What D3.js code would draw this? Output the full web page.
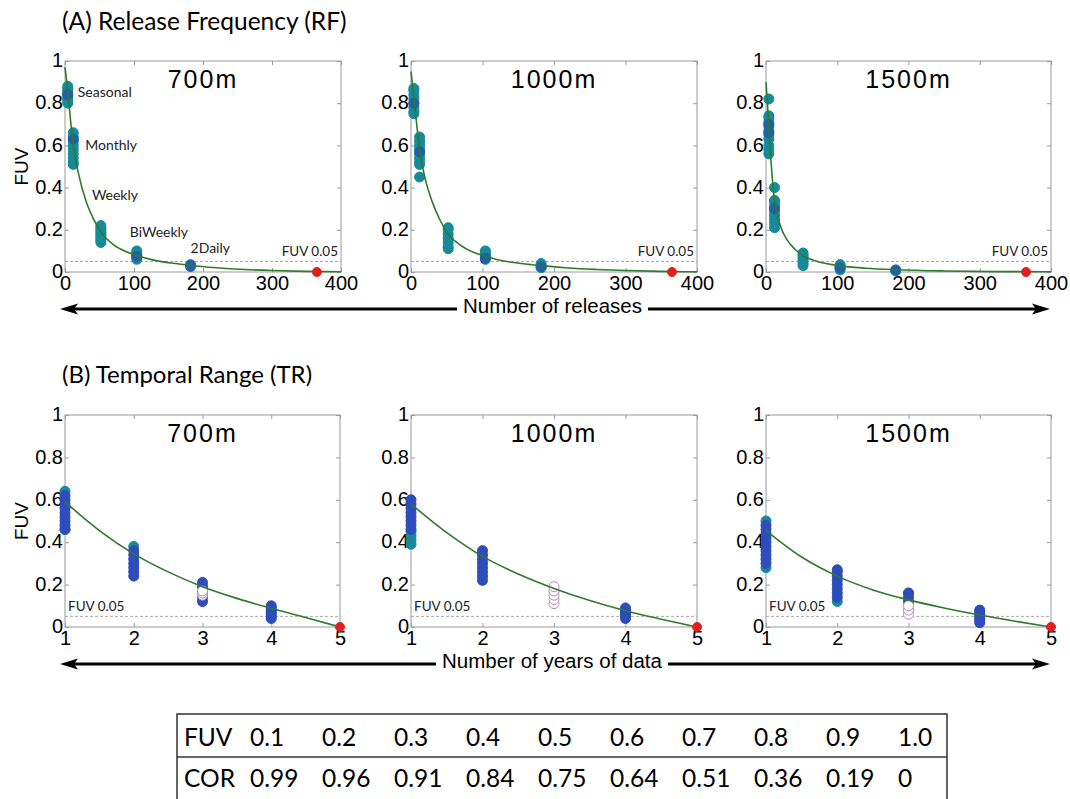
<!DOCTYPE html>
<html>
<head>
<meta charset="utf-8">
<script src="https://cdn.jsdelivr.net/npm/d3@7"></script>
<style>
  body { margin: 0; background: #fff; }
  svg { display: block; }
  .tick text { font-family: "Liberation Sans", Arial, sans-serif; }
</style>
</head>
<body>
<div id="chart"></div>
<script>
// FUV vs release frequency (A) and temporal range (B), three depths each

// --- (A) release frequency: x = number of releases per year
const rfGroups = ["Seasonal", "Monthly", "Weekly", "BiWeekly", "2Daily"];
const rfXTicks = [0, 100, 200, 300, 400];
const rfRed = [[365, 0]];

const rf700Teal = [
  [4, [0.80, 0.81, 0.82, 0.83, 0.84, 0.85, 0.86, 0.87, 0.88]],
  [12, [0.51, 0.52, 0.54, 0.56, 0.58, 0.60, 0.62, 0.64, 0.66]],
  [52, [0.14, 0.15, 0.16, 0.17, 0.18, 0.19, 0.20, 0.21, 0.22]],
  [104, [0.06, 0.07, 0.08, 0.09, 0.10]],
  [182, [0.025, 0.035]]
];
const rf700Blue = [[4, [0.84]], [12, [0.63]], [104, [0.075]], [182, [0.03]]];
const rf700Curve = [[0, 0.97], [4, 0.86], [8, 0.72], [12, 0.6], [20, 0.46], [30, 0.34], [40, 0.26], [52, 0.19],
  [70, 0.13], [90, 0.095], [104, 0.078], [130, 0.055], [160, 0.04], [182, 0.031], [220, 0.02],
  [260, 0.012], [300, 0.007], [350, 0.003], [400, 0.001]];

const rf1000Teal = [
  [4, [0.75, 0.76, 0.78, 0.80, 0.82, 0.84, 0.86, 0.87]],
  [12, [0.45, 0.51, 0.52, 0.54, 0.56, 0.58, 0.60, 0.62, 0.64]],
  [52, [0.11, 0.12, 0.14, 0.16, 0.18, 0.20, 0.21]],
  [104, [0.06, 0.07, 0.08, 0.09, 0.10]],
  [182, [0.02, 0.03, 0.04]]
];
const rf1000Blue = [[4, [0.80]], [12, [0.57]], [104, [0.065]], [182, [0.025]]];
const rf1000Curve = [[0, 0.95], [4, 0.83], [8, 0.70], [12, 0.58], [20, 0.44], [30, 0.33], [40, 0.25], [52, 0.18],
  [70, 0.125], [90, 0.09], [104, 0.075], [130, 0.052], [160, 0.038], [182, 0.03], [220, 0.019],
  [260, 0.012], [300, 0.007], [350, 0.003], [400, 0.001]];

const rf1500Teal = [
  [4, [0.56, 0.58, 0.60, 0.63, 0.65, 0.67, 0.69, 0.71, 0.73, 0.74, 0.82]],
  [12, [0.21, 0.23, 0.25, 0.27, 0.29, 0.31, 0.33, 0.34, 0.40]],
  [52, [0.03, 0.04, 0.05, 0.06, 0.07, 0.08, 0.09]],
  [104, [0.01, 0.02, 0.03, 0.035]],
  [182, [0.005]]
];
const rf1500Blue = [[4, [0.66, 0.70]], [12, [0.30]], [104, [0.02]], [182, [0.01]]];
const rf1500Curve = [[0, 0.9], [2, 0.8], [4, 0.68], [6, 0.57], [8, 0.48], [10, 0.4], [12, 0.34], [16, 0.27],
  [20, 0.22], [30, 0.15], [40, 0.11], [52, 0.077], [70, 0.052], [104, 0.029], [140, 0.018],
  [182, 0.011], [250, 0.005], [320, 0.002], [400, 0.001]];

// --- (B) temporal range: x = number of years of data
const trXTicks = [1, 2, 3, 4, 5];
const trRed = [[5, 0]];

const tr700Blue = [
  [1, [0.46, 0.48, 0.50, 0.52, 0.54, 0.56, 0.58, 0.60, 0.62]],
  [2, [0.24, 0.26, 0.28, 0.30, 0.32, 0.34, 0.36]],
  [3, [0.12, 0.14, 0.19, 0.21]],
  [4, [0.04, 0.05, 0.06, 0.07, 0.08, 0.09, 0.10]]
];
const tr700Teal = [[1, [0.46, 0.64]], [2, [0.38]]];
const tr700Open = [[3, [0.15, 0.16, 0.17]]];
const tr700Curve = [[1, 0.59], [1.5, 0.455], [2, 0.345], [2.5, 0.26], [3, 0.19], [3.5, 0.135], [4, 0.088], [4.5, 0.045], [5, 0.0]];

const tr1000Blue = [
  [1, [0.46, 0.48, 0.50, 0.52, 0.54, 0.56, 0.58, 0.60]],
  [2, [0.22, 0.24, 0.26, 0.28, 0.30, 0.32, 0.34, 0.36]],
  [4, [0.04, 0.05, 0.06, 0.07, 0.08, 0.09]]
];
const tr1000Teal = [[1, [0.39, 0.41, 0.43, 0.45]]];
const tr1000Open = [[3, [0.11, 0.13, 0.15, 0.17, 0.19]]];
const tr1000Curve = [[1, 0.58], [1.5, 0.445], [2, 0.333], [2.5, 0.25], [3, 0.182], [3.5, 0.125], [4, 0.077], [4.5, 0.037], [5, 0.0]];

const tr1500Blue = [
  [1, [0.30, 0.32, 0.34, 0.36, 0.38, 0.40, 0.42, 0.44, 0.46, 0.48]],
  [2, [0.14, 0.16, 0.18, 0.20, 0.22, 0.24, 0.26, 0.27]],
  [3, [0.12, 0.14, 0.16]],
  [4, [0.02, 0.03, 0.04, 0.05, 0.06, 0.07, 0.08]]
];
const tr1500Teal = [[1, [0.28, 0.50]], [2, [0.12]], [3, [0.16]]];
const tr1500Open = [[3, [0.06, 0.08, 0.10]]];
const tr1500Curve = [[1, 0.455], [1.5, 0.33], [2, 0.24], [2.5, 0.175], [3, 0.128], [3.5, 0.09], [4, 0.057], [4.5, 0.027], [5, 0.0]];

const yTicks = [0, 0.2, 0.4, 0.6, 0.8, 1];
const fuvLimit = 0.05;

// correlation table
const tableFuv = ["0.1", "0.2", "0.3", "0.4", "0.5", "0.6", "0.7", "0.8", "0.9", "1.0"];
const tableCor = ["0.99", "0.96", "0.91", "0.84", "0.75", "0.64", "0.51", "0.36", "0.19", "0"];

// ---------------------------------------------------------------
const W = 1070, H = 799;
const TEAL = "#178a98", BLUE = "#2e4dbb", RED = "#e0201e", GREEN = "#2f7a2c";
const SANS = '"Liberation Sans", Arial, sans-serif';
const CAL = 'Lato, "Open Sans", sans-serif';

const svg = d3.select("#chart").append("svg")
  .attr("width", W).attr("height", H);
svg.append("rect").attr("width", W).attr("height", H).attr("fill", "#fff");

// flatten [x, [ys]] groups into points
const flat = groups => groups.flatMap(([x, ys]) => ys.map(y => [x, y]));
const fmt = d3.format("~g");

function drawPanel(p) {
  const x = d3.scaleLinear().domain(p.xDomain).range([p.left, p.right]);
  const y = d3.scaleLinear().domain([0, 1]).range([p.bottom, p.top]);
  const g = svg.append("g");

  // box
  g.append("rect")
    .attr("x", p.left).attr("y", p.top)
    .attr("width", p.right - p.left).attr("height", p.bottom - p.top)
    .attr("fill", "none").attr("stroke", "#9a9a9a").attr("stroke-width", 1);

  // inside ticks on all four sides, labels only left/bottom
  const ax = (axis, tx, ty, labels) => {
    const a = g.append("g").attr("transform", `translate(${tx},${ty})`).call(axis);
    a.select(".domain").remove();
    a.selectAll(".tick line").attr("stroke", "#9a9a9a");
    if (!labels) a.selectAll(".tick text").remove();
    return a;
  };
  const yl = ax(d3.axisLeft(y).tickValues(yTicks).tickFormat(fmt).tickSize(-4).tickPadding(2), p.left, 0, true);
  yl.selectAll(".tick text").attr("font-size", 20).attr("fill", "#000").attr("dy", "0.28em");
  ax(d3.axisRight(y).tickValues(yTicks).tickSize(-4), p.right, 0, false);
  const xl = ax(d3.axisBottom(x).tickValues(p.xTicks).tickFormat(fmt).tickSize(-4).tickPadding(4), 0, p.bottom, true);
  xl.selectAll(".tick text").attr("font-size", 20).attr("fill", "#000");
  ax(d3.axisTop(x).tickValues(p.xTicks).tickSize(-4), 0, p.top, false);

  // FUV 0.05 reference
  g.append("line")
    .attr("x1", p.left).attr("x2", p.right)
    .attr("y1", y(fuvLimit)).attr("y2", y(fuvLimit))
    .attr("stroke", "#aaa").attr("stroke-width", 1).attr("stroke-dasharray", "3,2");
  g.append("text")
    .attr("x", p.limitRight ? p.right - 3 : p.left + 3)
    .attr("y", y(fuvLimit) - 5)
    .attr("text-anchor", p.limitRight ? "end" : "start")
    .attr("font-family", CAL).attr("font-size", 13.5).attr("fill", "#222")
    .text("FUV 0.05");

  // scatter
  const dots = (pts, fill, stroke) => g.append("g").selectAll("circle")
    .data(pts).join("circle")
    .attr("cx", d => x(d[0])).attr("cy", d => y(d[1])).attr("r", 5)
    .attr("fill", fill).attr("stroke", stroke).attr("stroke-width", 1);
  dots(flat(p.teal), TEAL, TEAL);
  dots(flat(p.blue), p.blueColor || BLUE, p.blueColor || BLUE);
  if (p.open) dots(flat(p.open), "#fff", "#b58ab4");

  // fitted curve
  g.append("path")
    .datum(p.curve)
    .attr("d", d3.line().x(d => x(d[0])).y(d => y(d[1])).curve(d3.curveMonotoneX))
    .attr("fill", "none").attr("stroke", GREEN).attr("stroke-width", 1.6);

  dots(p.red, RED, RED).attr("r", 4.5);

  // panel title
  g.append("text")
    .attr("x", (p.left + p.right) / 2).attr("y", p.top + 27)
    .attr("text-anchor", "middle")
    .attr("font-family", SANS).attr("font-size", 25).attr("letter-spacing", 2)
    .text(p.name);

  if (p.ylabel) {
    g.append("text")
      .attr("transform", `translate(${p.left - 37},${(p.top + p.bottom) / 2}) rotate(-90)`)
      .attr("text-anchor", "middle")
      .attr("font-family", SANS).attr("font-size", 19)
      .text("FUV");
  }
  return { x, y, g };
}

const aTop = 61, aBottom = 272, bTop = 415, bBottom = 627;
const cols = [[65, 341], [411, 697], [766, 1051]];

const panelsA = [
  { name: "700m", teal: rf700Teal, blue: rf700Blue, curve: rf700Curve, ylabel: true },
  { name: "1000m", teal: rf1000Teal, blue: rf1000Blue, curve: rf1000Curve },
  { name: "1500m", teal: rf1500Teal, blue: rf1500Blue, curve: rf1500Curve }
].map((p, i) => drawPanel(Object.assign(p, {
  left: cols[i][0], right: cols[i][1], top: aTop, bottom: aBottom,
  xDomain: [0, 400], xTicks: rfXTicks, red: rfRed, limitRight: true, blueColor: "#2160a8"
})));

const panelsB = [
  { name: "700m", teal: tr700Teal, blue: tr700Blue, open: tr700Open, curve: tr700Curve, ylabel: true },
  { name: "1000m", teal: tr1000Teal, blue: tr1000Blue, open: tr1000Open, curve: tr1000Curve },
  { name: "1500m", teal: tr1500Teal, blue: tr1500Blue, open: tr1500Open, curve: tr1500Curve }
].map((p, i) => drawPanel(Object.assign(p, {
  left: cols[i][0], right: cols[i][1] + (i === 0 ? -1 : 0), top: bTop, bottom: bBottom,
  xDomain: [1, 5], xTicks: trXTicks, red: trRed, limitRight: false
})));

// release group labels in the 700m panel (x offset in px, y in FUV units)
const a1 = panelsA[0];
const labelPos = [[10, 0.83], [12, 0.58], [-9, 0.34], [-7, 0.166], [0, 0.09]];
rf700Teal.forEach(([xv], i) => {
  a1.g.append("text")
    .attr("x", a1.x(xv) + labelPos[i][0])
    .attr("y", a1.y(labelPos[i][1]))
    .attr("font-family", CAL).attr("font-size", 14).attr("fill", "#222")
    .text(rfGroups[i]);
});

// section titles
svg.append("text").attr("x", 62).attr("y", 30)
  .attr("font-family", CAL).attr("font-size", 24.5).text("(A) Release Frequency (RF)");
svg.append("text").attr("x", 62).attr("y", 383)
  .attr("font-family", CAL).attr("font-size", 24).text("(B) Temporal Range (TR)");

// double-headed arrows with centred caption
function arrow(yPos, gap, caption) {
  const g = svg.append("g");
  const x0 = 60, x1 = 1050;
  g.append("line").attr("x1", x0 + 10).attr("x2", gap[0]).attr("y1", yPos).attr("y2", yPos)
    .attr("stroke", "#000").attr("stroke-width", 3);
  g.append("line").attr("x1", gap[1]).attr("x2", x1 - 10).attr("y1", yPos).attr("y2", yPos)
    .attr("stroke", "#000").attr("stroke-width", 3);
  g.append("path").attr("d", `M${x0},${yPos} L${x0 + 18},${yPos - 5.5} L${x0 + 14},${yPos} L${x0 + 18},${yPos + 5.5} Z`);
  g.append("path").attr("d", `M${x1},${yPos} L${x1 - 18},${yPos - 5.5} L${x1 - 14},${yPos} L${x1 - 18},${yPos + 5.5} Z`);
  g.append("text").attr("x", (gap[0] + gap[1]) / 2).attr("y", yPos + 4)
    .attr("text-anchor", "middle").attr("font-family", SANS).attr("font-size", 20.5)
    .text(caption);
}
arrow(309, [457, 648], "Number of releases");
arrow(664, [436, 668], "Number of years of data");

// FUV -> COR table
const tbl = svg.append("g");
const tLeft = 177, tRight = 947, tTop = 714, tMid = 757, tBottom = 800;
tbl.append("rect").attr("x", tLeft).attr("y", tTop).attr("width", tRight - tLeft).attr("height", tBottom - tTop)
  .attr("fill", "none").attr("stroke", "#333").attr("stroke-width", 1.5);
tbl.append("line").attr("x1", tLeft).attr("x2", tRight).attr("y1", tMid).attr("y2", tMid)
  .attr("stroke", "#333").attr("stroke-width", 1.5);
const colX = d3.scaleLinear().domain([0, 9]).range([250, 898]);
[["FUV", tableFuv, 746], ["COR", tableCor, 787]].forEach(([lab, vals, yy]) => {
  tbl.append("text").attr("x", 184).attr("y", yy)
    .attr("font-family", CAL).attr("font-size", 24.5).text(lab);
  tbl.selectAll(null).data(vals).join("text")
    .attr("x", (d, i) => colX(i)).attr("y", yy)
    .attr("font-family", CAL).attr("font-size", 24.5).text(d => d);
});
</script>
</body>
</html>
